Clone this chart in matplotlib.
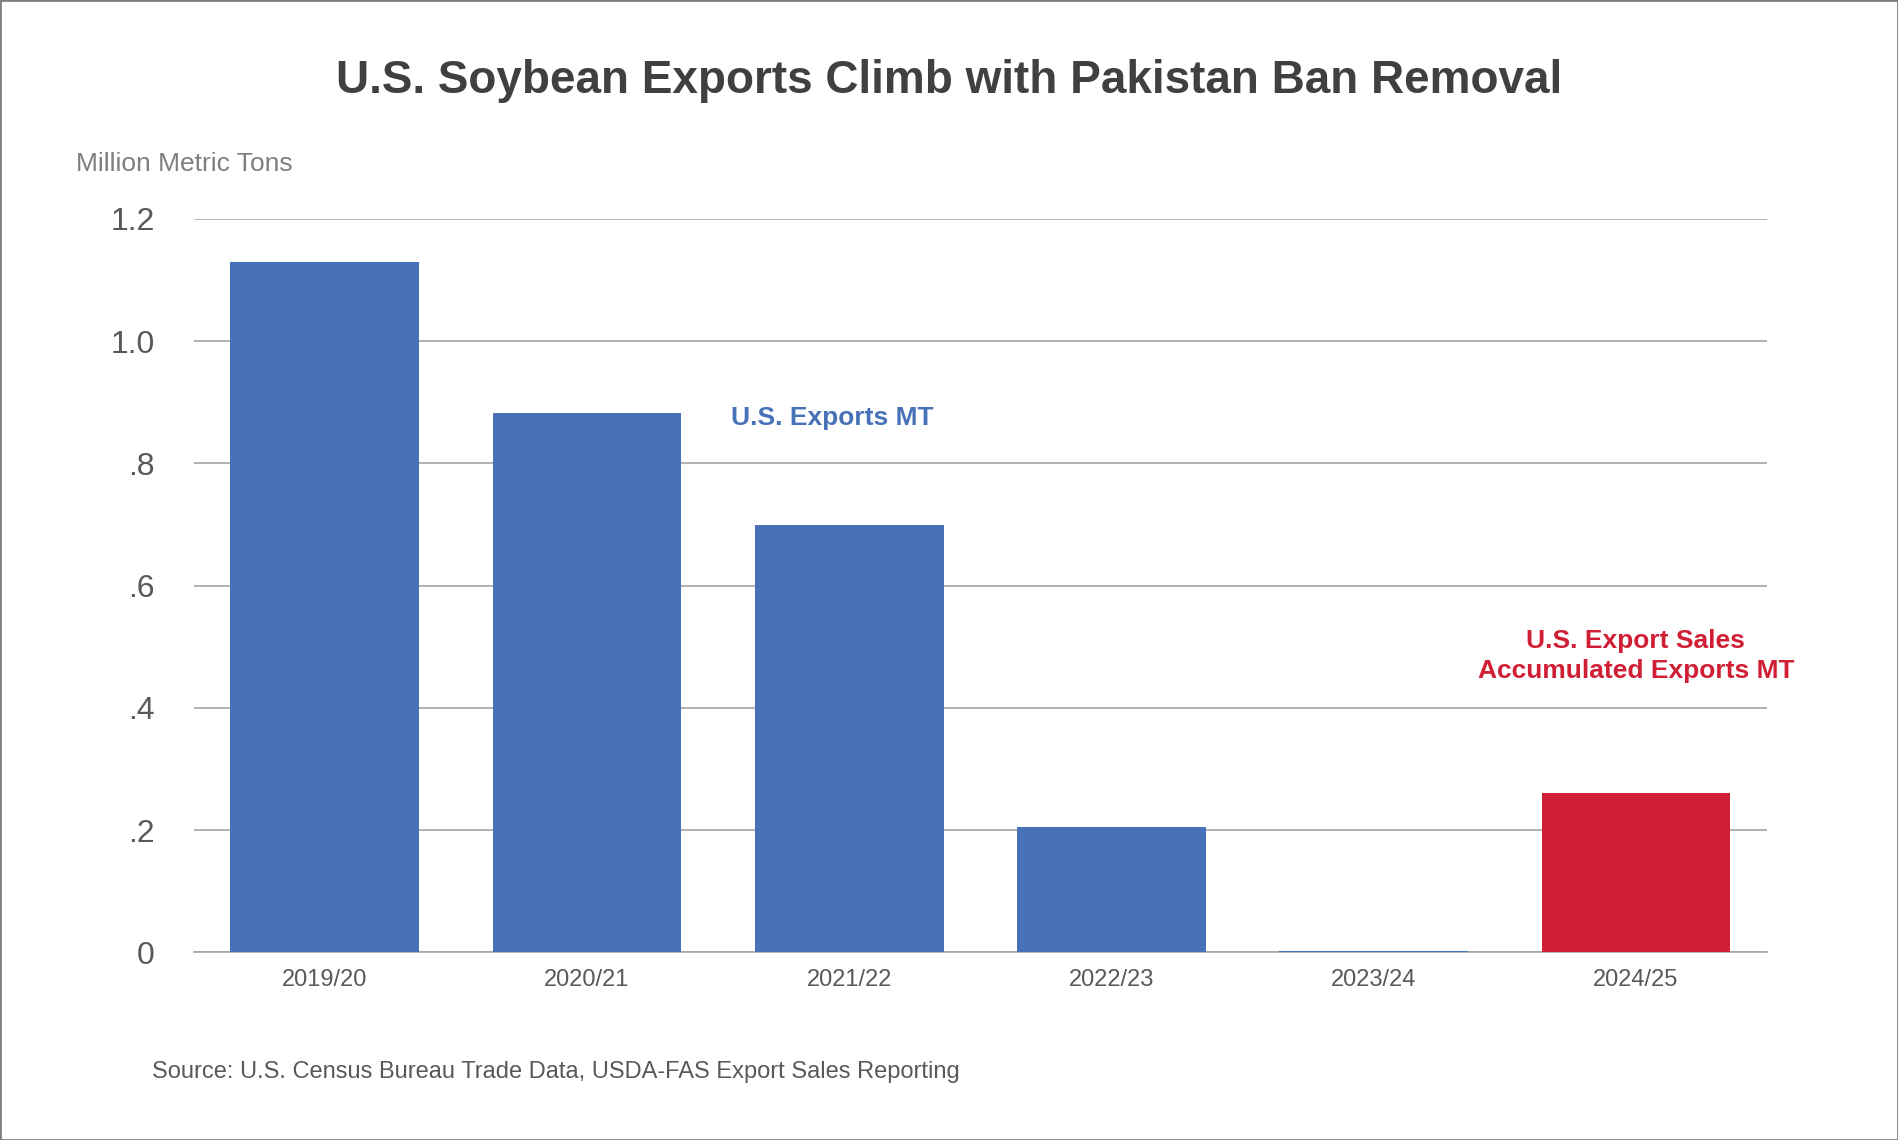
import matplotlib.pyplot as plt
from matplotlib.patches import Rectangle

plt.rcParams['font.family'] = 'Liberation Sans'

seasons = ['2019/20', '2020/21', '2021/22', '2022/23', '2023/24', '2024/25']
exports = [1.129, 0.883, 0.699, 0.206, 0.002, 0.261]
bar_colors = ['#4872b8'] * 5 + ['#d01f35']
y_ticks = [0, 0.2, 0.4, 0.6, 0.8, 1.0, 1.2]
y_labels = ['0', '.2', '.4', '.6', '.8', '1.0', '1.2']

fig = plt.figure(figsize=(18.98, 11.4), dpi=100)
ax = fig.add_axes([0.102, 0.1645, 0.829, 0.6435])

x = range(len(seasons))
ax.bar(x, exports, width=0.72, color=bar_colors, zorder=3)
ax.set_xlim(-0.5, len(seasons) - 0.5)
ax.set_ylim(0, 1.2)
ax.set_yticks(y_ticks)
ax.set_yticklabels(y_labels)
ax.set_xticks(list(x))
ax.set_xticklabels(seasons)
ax.grid(axis='y', color='#a6a6a6', linewidth=1.2, zorder=0)
for s in ['top', 'right', 'left']:
    ax.spines[s].set_visible(False)
ax.spines['bottom'].set_color('#a6a6a6')
ax.spines['bottom'].set_linewidth(1.2)
ax.tick_params(axis='y', length=0, labelsize=23, colors='#595959', pad=28)
ax.tick_params(axis='x', length=0, labelsize=17, colors='#595959', pad=12)

fig.text(0.5, 0.929, 'U.S. Soybean Exports Climb with Pakistan Ban Removal',
         ha='center', va='center', fontsize=33, fontweight='bold', color='#404040')
fig.text(0.04, 0.856, 'Million Metric Tons', ha='left', va='center',
         fontsize=19, color='#7f7f7f')
ax.text(1.55, 0.874, 'U.S. Exports MT', ha='left', va='center',
        fontsize=19, fontweight='bold', color='#4872b8')
ax.text(5.0, 0.485, 'U.S. Export Sales\nAccumulated Exports MT', ha='center',
        va='center', fontsize=19, fontweight='bold', color='#d01f35',
        linespacing=1.3)
fig.text(0.08, 0.06, 'Source: U.S. Census Bureau Trade Data, USDA-FAS Export Sales Reporting',
         ha='left', va='center', fontsize=17, color='#595959')

fig.patches.append(Rectangle((0, 0), 1, 1, transform=fig.transFigure,
                             fill=False, edgecolor='#808080', linewidth=2))
fig.savefig('out.png', dpi=100)
